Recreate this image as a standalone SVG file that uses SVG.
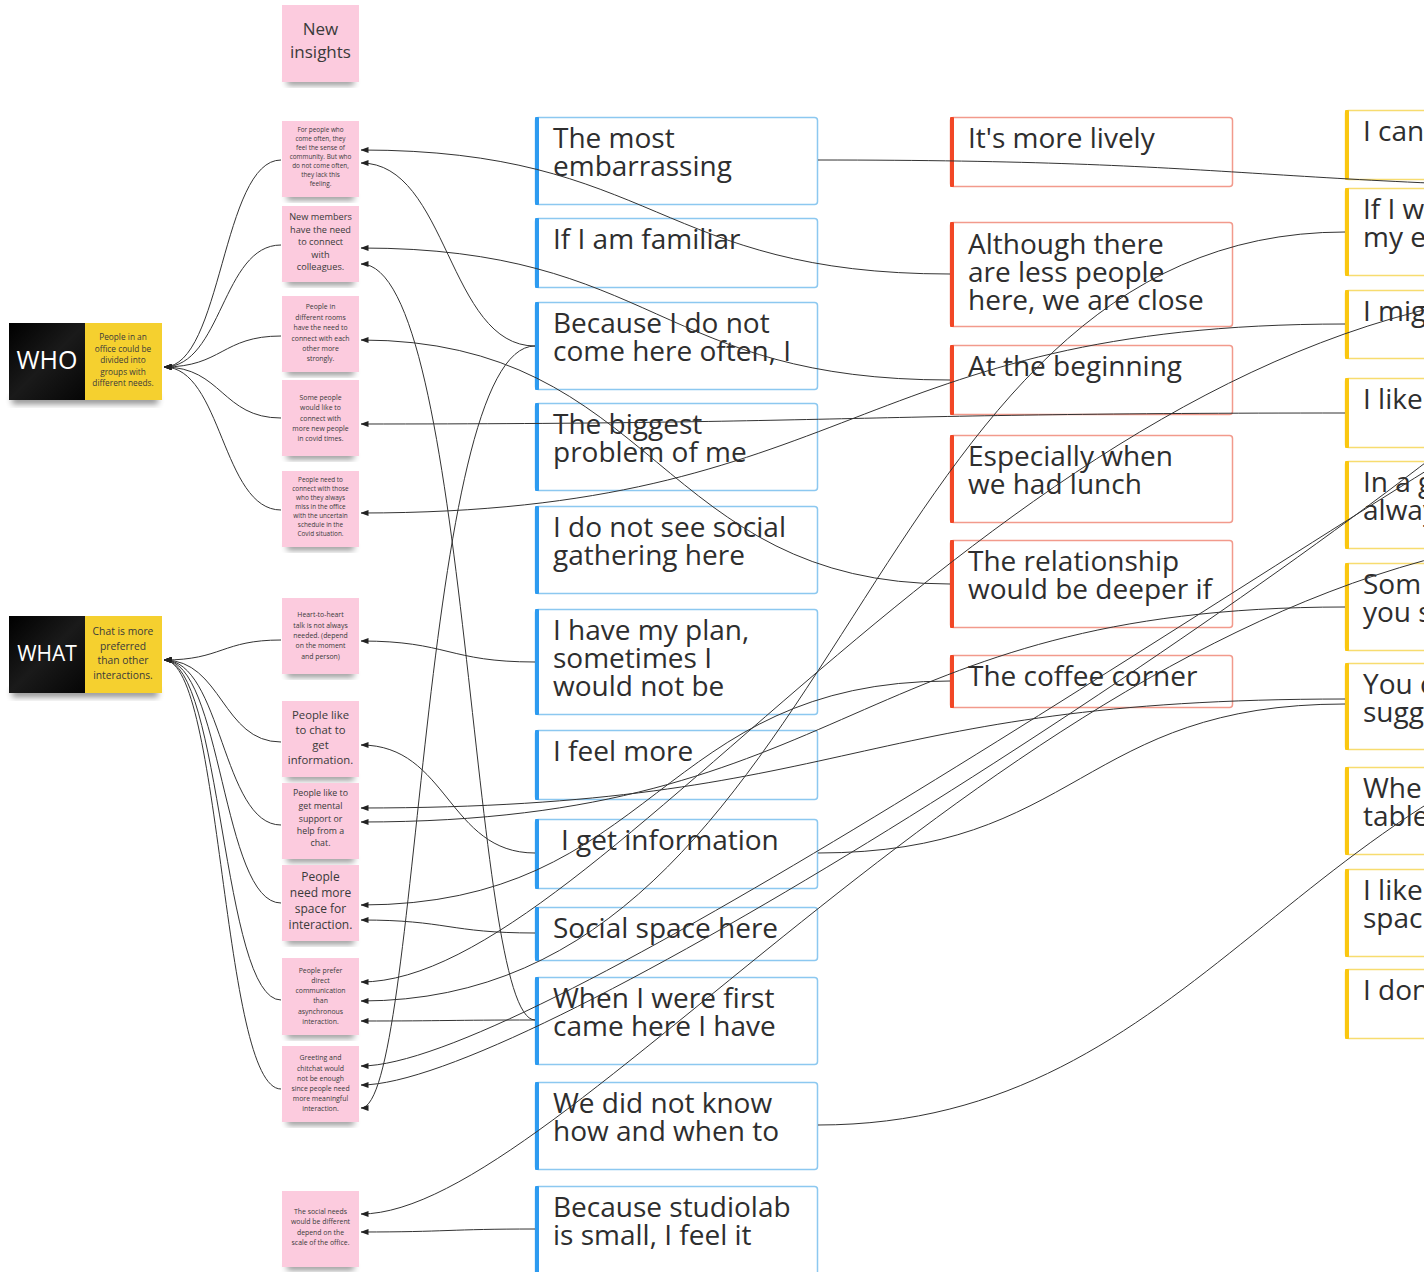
<svg xmlns="http://www.w3.org/2000/svg" width="1424" height="1272" viewBox="0 0 1424 1272">
  <defs>
    <filter id="stickyShadow" x="-30%" y="-30%" width="160%" height="170%">
      <feGaussianBlur stdDeviation="3"/>
    </filter>
    <linearGradient id="blackSheen" x1="0" y1="0" x2="1" y2="1">
      <stop offset="0" stop-color="#000"/>
      <stop offset="0.5" stop-color="#1a1a1a"/>
      <stop offset="1" stop-color="#050505"/>
    </linearGradient>
    <marker id="arrow" viewBox="0 0 8 6" refX="7.5" refY="3" markerWidth="8" markerHeight="6" markerUnits="userSpaceOnUse" orient="auto">
      <path d="M0,0 L8,3 L0,6 z" fill="#222"/>
    </marker>
  </defs>
  <style>
    .sticky { fill: #fccbde; }
    .shade { fill: #000; opacity: 0.45; }
    .ntxt { font-family: "Open Sans", "Noto Sans", sans-serif; fill: #3a3a3a; text-anchor: middle; }
    .ctxt { font-family: "Open Sans", "Noto Sans", sans-serif; fill: #2e2e2e; font-size: 28px; }
    .blue .frame { fill: #fff; stroke: #8cc8f0; stroke-width: 1.5; }
    .blue .bar { fill: #2d9bf0; }
    .red .frame { fill: #fff; stroke: #f29a8c; stroke-width: 1.5; }
    .red .bar { fill: #f24726; }
    .yel .frame { fill: #fff; stroke: #f7dc6f; stroke-width: 1.5; }
    .yel .bar { fill: #fac710; }
    .links path { fill: none; stroke: #333; stroke-width: 1; }
    .links .tip { marker-end: url(#arrow); }
  </style>

  <rect width="1424" height="1272" fill="#ffffff"/>

  <!-- category headers -->
  <g id="who">
    <rect x="12" y="396" width="146" height="8" class="shade" filter="url(#stickyShadow)"/>
    <rect x="9" y="323" width="77" height="77" fill="url(#blackSheen)"/>
    <rect x="85" y="323" width="77" height="77" fill="#f5d02f"/>
    <text x="47" y="369" font-family="Open Sans, sans-serif" font-size="25" fill="#fff" text-anchor="middle">WHO</text>
    <text class="ntxt" font-size="8.3" x="123"><tspan x="123" y="340">People in an</tspan><tspan x="123" y="352">office could be</tspan><tspan x="123" y="363">divided into</tspan><tspan x="123" y="375">groups with</tspan><tspan x="123" y="386">different needs.</tspan></text>
  </g>
  <g id="what">
    <rect x="12" y="689" width="146" height="8" class="shade" filter="url(#stickyShadow)"/>
    <rect x="9" y="616" width="77" height="77" fill="url(#blackSheen)"/>
    <rect x="85" y="616" width="77" height="77" fill="#f5d02f"/>
    <text x="47" y="661" font-family="Open Sans, sans-serif" font-size="21" fill="#fff" text-anchor="middle">WHAT</text>
    <text class="ntxt" font-size="10.3" x="123"><tspan x="123" y="635">Chat is more</tspan><tspan x="123" y="650">preferred</tspan><tspan x="123" y="664">than other</tspan><tspan x="123" y="679">interactions.</tspan></text>
  </g>

  <!-- pink insight notes -->
  <g id="note-new-insights">
    <rect x="287" y="78" width="67" height="7" class="shade" filter="url(#stickyShadow)"/>
    <rect x="282" y="5" width="77" height="77" class="sticky"/>
    <text class="ntxt" font-size="17"><tspan x="320.5" y="35">New</tspan><tspan x="320.5" y="58">insights</tspan></text>
  </g>
  <g id="note-1">
    <rect x="287" y="193" width="67" height="7" class="shade" filter="url(#stickyShadow)"/>
    <rect x="282" y="121" width="77" height="76" class="sticky"/>
    <text class="ntxt" font-size="6.4"><tspan x="320.5" y="132">For people who</tspan><tspan x="320.5" y="141">come often, they</tspan><tspan x="320.5" y="150">feel the sense of</tspan><tspan x="320.5" y="159">community. But who</tspan><tspan x="320.5" y="168">do not come often,</tspan><tspan x="320.5" y="177">they lack this</tspan><tspan x="320.5" y="186">feeling.</tspan></text>
  </g>
  <g id="note-2">
    <rect x="287" y="278" width="67" height="7" class="shade" filter="url(#stickyShadow)"/>
    <rect x="282" y="206" width="77" height="76" class="sticky"/>
    <text class="ntxt" font-size="9.2"><tspan x="320.5" y="220">New members</tspan><tspan x="320.5" y="233">have the need</tspan><tspan x="320.5" y="245">to connect</tspan><tspan x="320.5" y="258">with</tspan><tspan x="320.5" y="270">colleagues.</tspan></text>
  </g>
  <g id="note-3">
    <rect x="287" y="368" width="67" height="7" class="shade" filter="url(#stickyShadow)"/>
    <rect x="282" y="296" width="77" height="76" class="sticky"/>
    <text class="ntxt" font-size="6.9"><tspan x="320.5" y="309">People in</tspan><tspan x="320.5" y="319.5">different rooms</tspan><tspan x="320.5" y="330">have the need to</tspan><tspan x="320.5" y="340.5">connect with each</tspan><tspan x="320.5" y="351">other more</tspan><tspan x="320.5" y="361">strongly.</tspan></text>
  </g>
  <g id="note-4">
    <rect x="287" y="452" width="67" height="7" class="shade" filter="url(#stickyShadow)"/>
    <rect x="282" y="380" width="77" height="76" class="sticky"/>
    <text class="ntxt" font-size="6.9"><tspan x="320.5" y="399.5">Some people</tspan><tspan x="320.5" y="410">would like to</tspan><tspan x="320.5" y="420.5">connect with</tspan><tspan x="320.5" y="431">more new people</tspan><tspan x="320.5" y="441">in covid times.</tspan></text>
  </g>
  <g id="note-5">
    <rect x="287" y="543" width="67" height="7" class="shade" filter="url(#stickyShadow)"/>
    <rect x="282" y="471" width="77" height="76" class="sticky"/>
    <text class="ntxt" font-size="6.4"><tspan x="320.5" y="482">People need to</tspan><tspan x="320.5" y="491">connect with those</tspan><tspan x="320.5" y="500">who they always</tspan><tspan x="320.5" y="509">miss in the office</tspan><tspan x="320.5" y="518">with the uncertain</tspan><tspan x="320.5" y="527">schedule in the</tspan><tspan x="320.5" y="536">Covid situation.</tspan></text>
  </g>
  <g id="note-6">
    <rect x="287" y="670" width="67" height="7" class="shade" filter="url(#stickyShadow)"/>
    <rect x="282" y="598" width="77" height="76" class="sticky"/>
    <text class="ntxt" font-size="6.9"><tspan x="320.5" y="617">Heart-to-heart</tspan><tspan x="320.5" y="627.5">talk is not always</tspan><tspan x="320.5" y="638">needed. (depend</tspan><tspan x="320.5" y="648">on the moment</tspan><tspan x="320.5" y="658.5">and person)</tspan></text>
  </g>
  <g id="note-7">
    <rect x="287" y="773" width="67" height="7" class="shade" filter="url(#stickyShadow)"/>
    <rect x="282" y="701" width="77" height="76" class="sticky"/>
    <text class="ntxt" font-size="11.3"><tspan x="320.5" y="719">People like</tspan><tspan x="320.5" y="734">to chat to</tspan><tspan x="320.5" y="749">get</tspan><tspan x="320.5" y="764">information.</tspan></text>
  </g>
  <g id="note-8">
    <rect x="287" y="855" width="67" height="7" class="shade" filter="url(#stickyShadow)"/>
    <rect x="282" y="783" width="77" height="76" class="sticky"/>
    <text class="ntxt" font-size="8.8"><tspan x="320.5" y="796">People like to</tspan><tspan x="320.5" y="809">get mental</tspan><tspan x="320.5" y="822">support or</tspan><tspan x="320.5" y="834">help from a</tspan><tspan x="320.5" y="846">chat.</tspan></text>
  </g>
  <g id="note-9">
    <rect x="287" y="937" width="67" height="7" class="shade" filter="url(#stickyShadow)"/>
    <rect x="282" y="865" width="77" height="76" class="sticky"/>
    <text class="ntxt" font-size="12"><tspan x="320.5" y="881">People</tspan><tspan x="320.5" y="897">need more</tspan><tspan x="320.5" y="913">space for</tspan><tspan x="320.5" y="929">interaction.</tspan></text>
  </g>
  <g id="note-10">
    <rect x="287" y="1031" width="67" height="7" class="shade" filter="url(#stickyShadow)"/>
    <rect x="282" y="958" width="77" height="77" class="sticky"/>
    <text class="ntxt" font-size="6.9"><tspan x="320.5" y="972.5">People prefer</tspan><tspan x="320.5" y="983">direct</tspan><tspan x="320.5" y="993">communication</tspan><tspan x="320.5" y="1003">than</tspan><tspan x="320.5" y="1013.5">asynchronous</tspan><tspan x="320.5" y="1024">interaction.</tspan></text>
  </g>
  <g id="note-11">
    <rect x="287" y="1118" width="67" height="7" class="shade" filter="url(#stickyShadow)"/>
    <rect x="282" y="1046" width="77" height="76" class="sticky"/>
    <text class="ntxt" font-size="6.9"><tspan x="320.5" y="1060">Greeting and</tspan><tspan x="320.5" y="1070.5">chitchat would</tspan><tspan x="320.5" y="1081">not be enough</tspan><tspan x="320.5" y="1091">since people need</tspan><tspan x="320.5" y="1101">more meaningful</tspan><tspan x="320.5" y="1111">interaction.</tspan></text>
  </g>
  <g id="note-12">
    <rect x="287" y="1263" width="67" height="7" class="shade" filter="url(#stickyShadow)"/>
    <rect x="282" y="1191" width="77" height="76" class="sticky"/>
    <text class="ntxt" font-size="6.9"><tspan x="320.5" y="1214">The social needs</tspan><tspan x="320.5" y="1224">would be different</tspan><tspan x="320.5" y="1234.5">depend on the</tspan><tspan x="320.5" y="1245">scale of the office.</tspan></text>
  </g>

  <!-- quote cards, blue column -->
  <g id="b1" class="blue"><rect class="frame" x="535.5" y="117.5" width="282" height="87" rx="3"/><rect class="bar" x="535" y="117" width="4" height="88" rx="1"/><text class="ctxt"><tspan x="553" y="148">The most</tspan><tspan x="553" y="176">embarrassing</tspan></text></g>
  <g id="b2" class="blue"><rect class="frame" x="535.5" y="218.5" width="282" height="69" rx="3"/><rect class="bar" x="535" y="218" width="4" height="70" rx="1"/><text class="ctxt"><tspan x="553" y="249">If I am familiar</tspan></text></g>
  <g id="b3" class="blue"><rect class="frame" x="535.5" y="302.5" width="282" height="87" rx="3"/><rect class="bar" x="535" y="302" width="4" height="88" rx="1"/><text class="ctxt"><tspan x="553" y="333">Because I do not</tspan><tspan x="553" y="361">come here often, I</tspan></text></g>
  <g id="b4" class="blue"><rect class="frame" x="535.5" y="403.5" width="282" height="87" rx="3"/><rect class="bar" x="535" y="403" width="4" height="88" rx="1"/><text class="ctxt"><tspan x="553" y="434">The biggest</tspan><tspan x="553" y="462">problem of me</tspan></text></g>
  <g id="b5" class="blue"><rect class="frame" x="535.5" y="506.5" width="282" height="87" rx="3"/><rect class="bar" x="535" y="506" width="4" height="88" rx="1"/><text class="ctxt"><tspan x="553" y="537">I do not see social</tspan><tspan x="553" y="565">gathering here</tspan></text></g>
  <g id="b6" class="blue"><rect class="frame" x="535.5" y="609.5" width="282" height="105" rx="3"/><rect class="bar" x="535" y="609" width="4" height="106" rx="1"/><text class="ctxt"><tspan x="553" y="640">I have my plan,</tspan><tspan x="553" y="668">sometimes I</tspan><tspan x="553" y="696">would not be</tspan></text></g>
  <g id="b7" class="blue"><rect class="frame" x="535.5" y="730.5" width="282" height="69" rx="3"/><rect class="bar" x="535" y="730" width="4" height="70" rx="1"/><text class="ctxt"><tspan x="553" y="761">I feel more</tspan></text></g>
  <g id="b8" class="blue"><rect class="frame" x="535.5" y="819.5" width="282" height="69" rx="3"/><rect class="bar" x="535" y="819" width="4" height="70" rx="1"/><text class="ctxt"><tspan x="561" y="850">I get information</tspan></text></g>
  <g id="b9" class="blue"><rect class="frame" x="535.5" y="907.5" width="282" height="53" rx="3"/><rect class="bar" x="535" y="907" width="4" height="54" rx="1"/><text class="ctxt"><tspan x="553" y="938">Social space here</tspan></text></g>
  <g id="b10" class="blue"><rect class="frame" x="535.5" y="977.5" width="282" height="87" rx="3"/><rect class="bar" x="535" y="977" width="4" height="88" rx="1"/><text class="ctxt"><tspan x="553" y="1008">When I were first</tspan><tspan x="553" y="1036">came here I have</tspan></text></g>
  <g id="b11" class="blue"><rect class="frame" x="535.5" y="1082.5" width="282" height="87" rx="3"/><rect class="bar" x="535" y="1082" width="4" height="88" rx="1"/><text class="ctxt"><tspan x="553" y="1113">We did not know</tspan><tspan x="553" y="1141">how and when to</tspan></text></g>
  <g id="b12" class="blue"><rect class="frame" x="535.5" y="1186.5" width="282" height="100" rx="3"/><rect class="bar" x="535" y="1186" width="4" height="100" rx="1"/><text class="ctxt"><tspan x="553" y="1217">Because studiolab</tspan><tspan x="553" y="1245">is small, I feel it</tspan></text></g>

  <!-- quote cards, red column -->
  <g id="r1" class="red"><rect class="frame" x="950.5" y="117.5" width="282" height="69" rx="3"/><rect class="bar" x="950" y="117" width="4" height="70" rx="1"/><text class="ctxt"><tspan x="968" y="148">It's more lively</tspan></text></g>
  <g id="r2" class="red"><rect class="frame" x="950.5" y="222.5" width="282" height="104" rx="3"/><rect class="bar" x="950" y="222" width="4" height="105" rx="1"/><text class="ctxt"><tspan x="968" y="254">Although there</tspan><tspan x="968" y="282">are less people</tspan><tspan x="968" y="310">here, we are close</tspan></text></g>
  <g id="r3" class="red"><rect class="frame" x="950.5" y="345.5" width="282" height="69" rx="3"/><rect class="bar" x="950" y="345" width="4" height="70" rx="1"/><text class="ctxt"><tspan x="968" y="376">At the beginning</tspan></text></g>
  <g id="r4" class="red"><rect class="frame" x="950.5" y="435.5" width="282" height="87" rx="3"/><rect class="bar" x="950" y="435" width="4" height="88" rx="1"/><text class="ctxt"><tspan x="968" y="466">Especially when</tspan><tspan x="968" y="494">we had lunch</tspan></text></g>
  <g id="r5" class="red"><rect class="frame" x="950.5" y="540.5" width="282" height="87" rx="3"/><rect class="bar" x="950" y="540" width="4" height="88" rx="1"/><text class="ctxt"><tspan x="968" y="571">The relationship</tspan><tspan x="968" y="599">would be deeper if</tspan></text></g>
  <g id="r6" class="red"><rect class="frame" x="950.5" y="655.5" width="282" height="52" rx="3"/><rect class="bar" x="950" y="655" width="4" height="53" rx="1"/><text class="ctxt"><tspan x="968" y="686">The coffee corner</tspan></text></g>

  <!-- quote cards, yellow column -->
  <g id="y1" class="yel"><rect class="frame" x="1345.5" y="110.5" width="200" height="69" rx="3"/><rect class="bar" x="1345" y="110" width="4" height="70" rx="1"/><text class="ctxt"><tspan x="1363" y="141">I can</tspan></text></g>
  <g id="y2" class="yel"><rect class="frame" x="1345.5" y="188.5" width="200" height="87" rx="3"/><rect class="bar" x="1345" y="188" width="4" height="88" rx="1"/><text class="ctxt"><tspan x="1363" y="219">If I w</tspan><tspan x="1363" y="247">my e</tspan></text></g>
  <g id="y3" class="yel"><rect class="frame" x="1345.5" y="290.5" width="200" height="68" rx="3"/><rect class="bar" x="1345" y="290" width="4" height="69" rx="1"/><text class="ctxt"><tspan x="1363" y="321">I mig</tspan></text></g>
  <g id="y4" class="yel"><rect class="frame" x="1345.5" y="378.5" width="200" height="69" rx="3"/><rect class="bar" x="1345" y="378" width="4" height="70" rx="1"/><text class="ctxt"><tspan x="1363" y="409">I like</tspan></text></g>
  <g id="y5" class="yel"><rect class="frame" x="1345.5" y="461.5" width="200" height="87" rx="3"/><rect class="bar" x="1345" y="461" width="4" height="88" rx="1"/><text class="ctxt"><tspan x="1363" y="492">In a g</tspan><tspan x="1363" y="520">alway</tspan></text></g>
  <g id="y6" class="yel"><rect class="frame" x="1345.5" y="563.5" width="200" height="87" rx="3"/><rect class="bar" x="1345" y="563" width="4" height="88" rx="1"/><text class="ctxt"><tspan x="1363" y="594">Som</tspan><tspan x="1363" y="622">you s</tspan></text></g>
  <g id="y7" class="yel"><rect class="frame" x="1345.5" y="663.5" width="200" height="86" rx="3"/><rect class="bar" x="1345" y="663" width="4" height="87" rx="1"/><text class="ctxt"><tspan x="1363" y="694">You c</tspan><tspan x="1363" y="722">sugg</tspan></text></g>
  <g id="y8" class="yel"><rect class="frame" x="1345.5" y="767.5" width="200" height="87" rx="3"/><rect class="bar" x="1345" y="767" width="4" height="88" rx="1"/><text class="ctxt"><tspan x="1363" y="798">Whe</tspan><tspan x="1363" y="826">table</tspan></text></g>
  <g id="y9" class="yel"><rect class="frame" x="1345.5" y="869.5" width="200" height="87" rx="3"/><rect class="bar" x="1345" y="869" width="4" height="88" rx="1"/><text class="ctxt"><tspan x="1363" y="900">I like</tspan><tspan x="1363" y="928">spac</tspan></text></g>
  <g id="y10" class="yel"><rect class="frame" x="1345.5" y="969.5" width="200" height="69" rx="3"/><rect class="bar" x="1345" y="969" width="4" height="70" rx="1"/><text class="ctxt"><tspan x="1363" y="1000">I don</tspan></text></g>

  <!-- connectors -->
  <g id="connectors" class="links">
    <!-- header trees -->
    <path class="tip" d="M281,160 C222,160 222,367 164,367"/>
    <path class="tip" d="M281,245 C222,245 222,367 164,367"/>
    <path class="tip" d="M281,336 C222,336 222,367 164,367"/>
    <path class="tip" d="M281,418 C222,418 222,367 164,367"/>
    <path class="tip" d="M281,510 C222,510 222,367 164,367"/>
    <path class="tip" d="M281,640 C222,640 222,660 164,660"/>
    <path class="tip" d="M281,742 C222,742 222,660 164,660"/>
    <path class="tip" d="M281,825 C222,825 222,660 164,660"/>
    <path class="tip" d="M281,903 C222,903 222,660 164,660"/>
    <path class="tip" d="M281,1000 C222,1000 222,660 164,660"/>
    <path class="tip" d="M281,1089 C222,1089 222,660 164,660"/>
    <!-- quotes to insights -->
    <path class="tip" d="M950,274 C657,274 657,150 361,150"/>
    <path class="tip" d="M535,346 C448,346 448,163 361,163"/>
    <path class="tip" d="M950,380 C657,380 657,248 361,248"/>
    <path class="tip" d="M535,1020 C470,1020 470,264 361,264"/>
    <path class="tip" d="M950,584 C657,584 657,340 361,340"/>
    <path class="tip" d="M1345,413 C853,413 853,424 361,424"/>
    <path class="tip" d="M1345,324 C853,324 853,513 361,513"/>
    <path class="tip" d="M535,662 C448,662 448,641 361,641"/>
    <path class="tip" d="M535,853 C448,853 448,745 361,745"/>
    <path class="tip" d="M1345,699 C853,699 853,808 361,808"/>
    <path class="tip" d="M1345,607 C853,607 853,822 361,822"/>
    <path class="tip" d="M950,681 C657,681 657,905 361,905"/>
    <path class="tip" d="M535,933 C448,933 448,920 361,920"/>
    <path class="tip" d="M1540,290 C1000,340 600,982 361,982"/>
    <path class="tip" d="M1345,232 C853,232 853,1001 361,1001"/>
    <path class="tip" d="M535,1020 C448,1020 448,1021 361,1021"/>
    <path class="tip" d="M1460,450 C1150,640 520,1066 361,1066"/>
    <path class="tip" d="M1480,420 C1180,660 520,1085 361,1085"/>
    <path class="tip" d="M535,346 C420,346 420,1108 361,1108"/>
    <path class="tip" d="M1520,540 C1000,620 560,1214 361,1214"/>
    <path class="tip" d="M535,1229 C448,1229 448,1232 361,1232"/>
    <!-- quotes leading further right -->
    <path d="M818,160 C1250,160 1250,185 1700,190"/>
    <path d="M818,853 C1080,853 1080,704 1345,704"/>
    <path d="M818,1125 C1200,1125 1300,760 1700,700"/>
  </g>
</svg>
